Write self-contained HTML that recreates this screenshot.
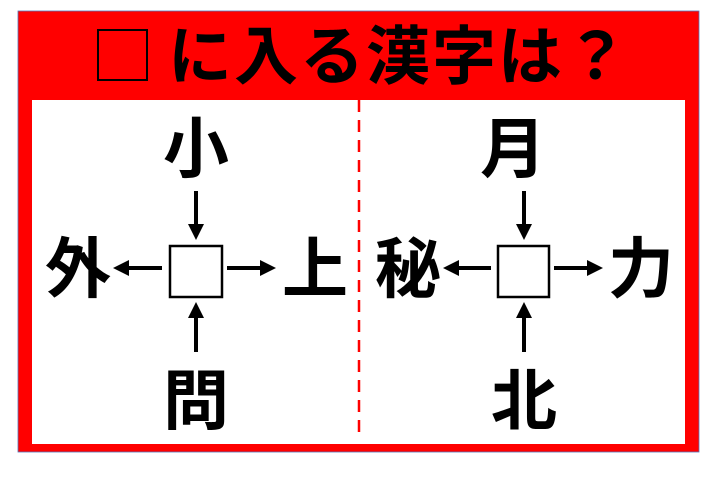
<!DOCTYPE html>
<html><head><meta charset="utf-8"><style>
html,body{margin:0;padding:0;background:#fff;}
body{width:720px;height:493px;position:relative;overflow:hidden;}
svg text{font-family:"Liberation Sans","Noto Sans CJK JP",sans-serif;font-weight:bold;}
</style></head><body>
<svg width="720" height="493" viewBox="0 0 720 493" xmlns="http://www.w3.org/2000/svg">
<rect x="18" y="11" width="681" height="441" fill="#ff0000" stroke="#5577bb" stroke-width="0.8"/>
<rect x="32" y="100" width="653" height="344" fill="#fff"/>
<line x1="359" y1="100" x2="359" y2="438" stroke="#ff0000" stroke-width="2.5" stroke-dasharray="12,8"/>
<rect x="98" y="30" width="49" height="50" fill="none" stroke="#000" stroke-width="2"/>
<text x="399" y="79" font-size="64" text-anchor="middle" fill="#000" letter-spacing="2">に入る漢字は？</text>
<g fill="#000" font-size="66" text-anchor="middle">
<text x="196" y="172">小</text>
<text x="78" y="292">外</text>
<text x="315" y="292">上</text>
<text x="196" y="424">問</text>
<text x="513" y="172">月</text>
<text x="408" y="292">秘</text>
<text x="641" y="292">力</text>
<text x="524" y="424">北</text>
</g>
<g stroke="#000" stroke-width="2.5" fill="#fff">
<rect x="170" y="246" width="52" height="51"/>
<rect x="498" y="246" width="51" height="51"/>
</g>
<g fill="#000">
<!-- left diagram -->
<rect x="194" y="191" width="4" height="34"/><polygon points="188,224 204,224 196,240"/>
<rect x="194" y="318" width="4" height="34"/><polygon points="188,318 204,318 196,302"/>
<rect x="128" y="266" width="34" height="4"/><polygon points="129,260 129,276 113,268"/>
<rect x="227" y="266" width="34" height="4"/><polygon points="260,260 260,276 276,268"/>
<!-- right diagram -->
<rect x="522" y="191" width="4" height="34"/><polygon points="516,224 532,224 524,240"/>
<rect x="522" y="318" width="4" height="34"/><polygon points="516,318 532,318 524,302"/>
<rect x="458" y="266" width="33" height="4"/><polygon points="459,260 459,276 443,268"/>
<rect x="554" y="266" width="34" height="4"/><polygon points="587,260 587,276 603,268"/>
</g>
</svg>
</body></html>
